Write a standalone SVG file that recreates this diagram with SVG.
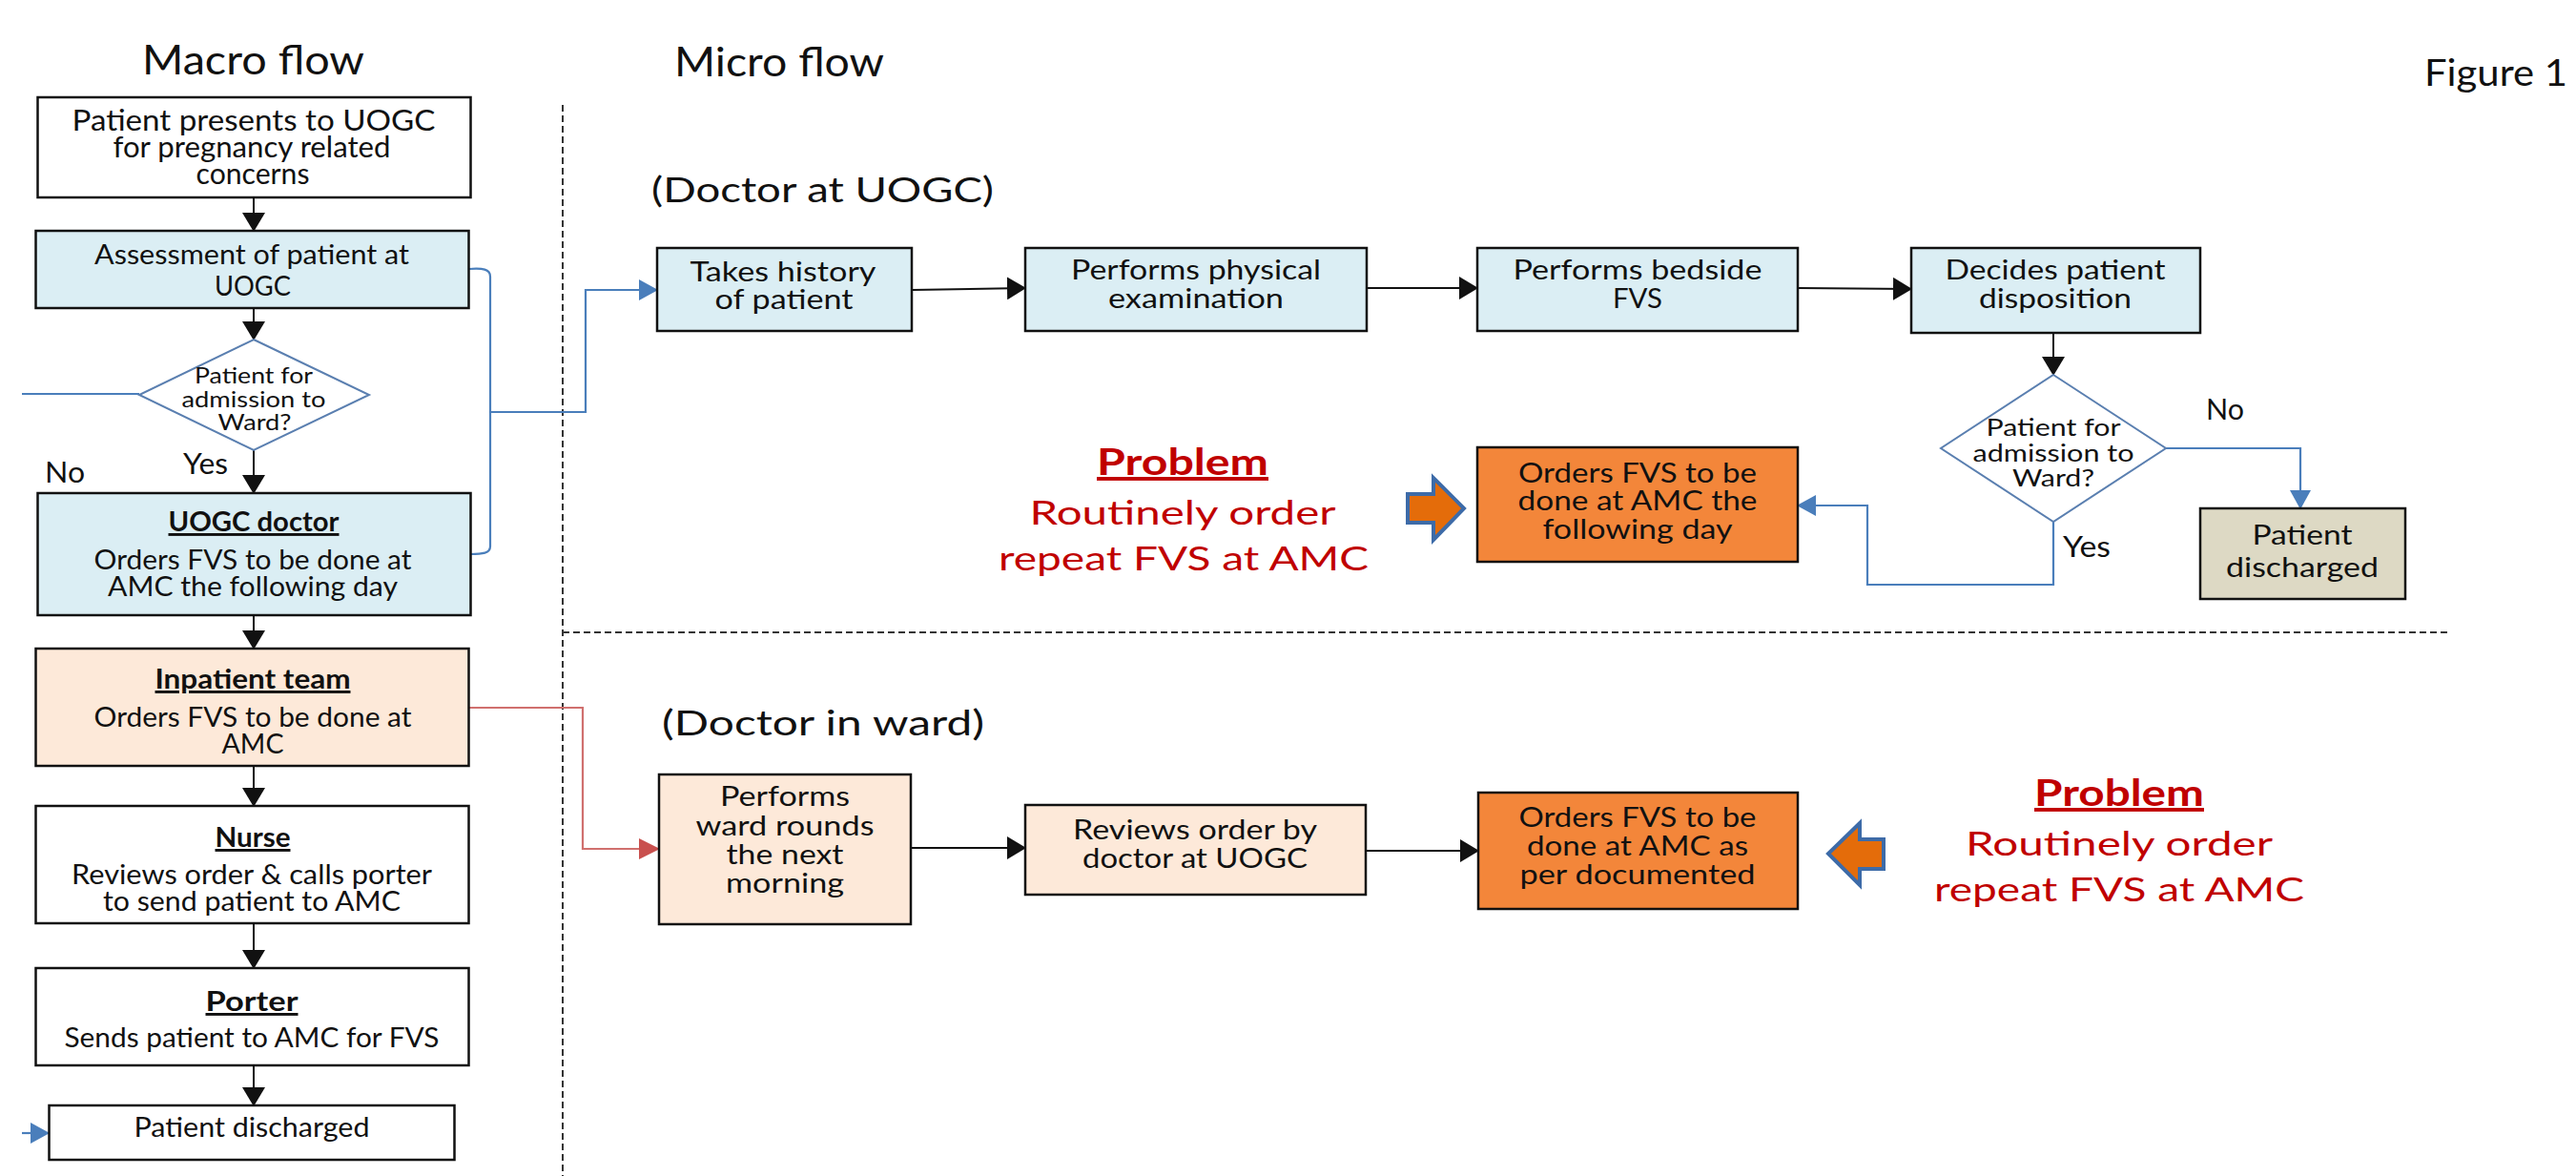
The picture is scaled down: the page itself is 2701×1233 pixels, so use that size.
<svg xmlns="http://www.w3.org/2000/svg" width="2701" height="1233" viewBox="0 0 2701 1233">
  <style>
    text { font-family: Lato, "Liberation Sans", sans-serif; fill: #111; }
    .ttl { font-size: 43px; }
    .sub { font-size: 37px; }
    .lc { font-size: 29px; text-anchor: middle; }
    .lcb { font-size: 29px; text-anchor: middle; font-weight: bold; text-decoration: underline; }
    .mc { font-size: 29px; text-anchor: middle; }
    .dm { font-size: 24px; text-anchor: middle; }
    .yn { font-size: 30px; }
    .pb { font-size: 39px; font-weight: bold; fill: #C00000; text-anchor: middle; text-decoration: underline; }
    .pr { font-size: 35px; fill: #C00000; text-anchor: middle; }
    .box { stroke: #111; stroke-width: 2.5; }
    .white { fill: #FFFFFF; }
    .blue { fill: #DBEEF4; }
    .peach { fill: #FDE9D9; }
    .orange { fill: #F3863A; }
    .tan { fill: #DDD9C4; }
    .dia { fill: #FFFFFF; stroke: #5A7FB0; stroke-width: 2; }
    .k { fill: none; stroke: #111; stroke-width: 2; }
    .b { fill: none; stroke: #4A7EBB; stroke-width: 2.2; }
    .r { fill: none; stroke: #D0706E; stroke-width: 2.2; }
    .dash { fill: none; stroke: #333; stroke-width: 2; stroke-dasharray: 7 4; }
    .blk { fill: #E46C0A; stroke: #3D6BA8; stroke-width: 4; stroke-linejoin: miter; }
  </style>
  <defs>
    <marker id="ak" markerUnits="userSpaceOnUse" viewBox="0 0 20 24" markerWidth="20" markerHeight="24" refX="19" refY="12" orient="auto">
      <path d="M0,0 L20,12 L0,24 z" fill="#111"/>
    </marker>
    <marker id="ab" markerUnits="userSpaceOnUse" viewBox="0 0 20 22" markerWidth="20" markerHeight="22" refX="19" refY="11" orient="auto">
      <path d="M0,0 L20,11 L0,22 z" fill="#4A7EBB"/>
    </marker>
    <marker id="ar" markerUnits="userSpaceOnUse" viewBox="0 0 22 22" markerWidth="22" markerHeight="22" refX="21" refY="11" orient="auto">
      <path d="M0,0 L22,11 L0,22 z" fill="#C9504E"/>
    </marker>
  </defs>

  <rect width="2701" height="1233" fill="#FFFFFF"/>

  <!-- section headings -->
  <g id="headings">
    <text class="ttl" x="149" y="78" textLength="233" lengthAdjust="spacingAndGlyphs">Macro flow</text>
    <text class="ttl" x="707" y="80" textLength="220" lengthAdjust="spacingAndGlyphs">Micro flow</text>
    <text class="ttl" x="2542" y="90" font-size="39" style="font-size:39px" textLength="150" lengthAdjust="spacingAndGlyphs">Figure 1</text>
    <text class="sub" x="683" y="212" textLength="359" lengthAdjust="spacingAndGlyphs">(Doctor at UOGC)</text>
    <text class="sub" x="694" y="771" textLength="338" lengthAdjust="spacingAndGlyphs">(Doctor in ward)</text>
  </g>

  <!-- swimlane separators -->
  <g id="separators">
    <line class="dash" x1="590" y1="110" x2="590" y2="1233"/>
    <line class="dash" x1="590" y1="663" x2="2566" y2="663"/>
  </g>

  <!-- connectors -->
  <g id="connectors">
    <!-- macro flow spine -->
    <path class="k" d="M266,207 L266,242" marker-end="url(#ak)"/>
    <path class="k" d="M266,323 L266,356" marker-end="url(#ak)"/>
    <path class="k" d="M266,472 L266,517" marker-end="url(#ak)"/>
    <path class="k" d="M266,645 L266,680" marker-end="url(#ak)"/>
    <path class="k" d="M266,803 L266,845" marker-end="url(#ak)"/>
    <path class="k" d="M266,968 L266,1015" marker-end="url(#ak)"/>
    <path class="k" d="M266,1117 L266,1159" marker-end="url(#ak)"/>
    <!-- "No" branch of the macro decision -->
    <path class="b" d="M146,413 L23,413"/>
    <path class="b" d="M23,1188 L51,1188" marker-end="url(#ab)"/>
    <!-- bracket linking UOGC steps to the doctor micro flow -->
    <path class="b" d="M492,282 C506,281 514,282 514,290 L514,573 C514,580 506,581 493,581"/>
    <path class="b" d="M514,432 L614,432 L614,304 L689,304" marker-end="url(#ab)"/>
    <!-- inpatient team to ward micro flow -->
    <path class="r" d="M492,742 L611,742 L611,890 L691,890" marker-end="url(#ar)"/>
    <!-- doctor at UOGC row -->
    <path class="k" d="M956,304 L1075,302" marker-end="url(#ak)"/>
    <path class="k" d="M1433,302 L1549,302" marker-end="url(#ak)"/>
    <path class="k" d="M1885,302 L2004,303" marker-end="url(#ak)"/>
    <path class="k" d="M2153,349 L2153,393" marker-end="url(#ak)"/>
    <path class="b" d="M2271,470 L2412,470 L2412,533" marker-end="url(#ab)"/>
    <path class="b" d="M2153,547 L2153,613 L1958,613 L1958,530 L1885,530" marker-end="url(#ab)"/>
    <!-- doctor in ward row -->
    <path class="k" d="M955,889 L1075,889" marker-end="url(#ak)"/>
    <path class="k" d="M1432,892 L1550,892" marker-end="url(#ak)"/>
  </g>

  <!-- connector labels -->
  <g id="labels">
    <text class="yn" x="192" y="497" textLength="47" lengthAdjust="spacingAndGlyphs">Yes</text>
    <text class="yn" x="47" y="506" textLength="42" lengthAdjust="spacingAndGlyphs">No</text>
    <text class="yn" x="2313" y="440" textLength="40" lengthAdjust="spacingAndGlyphs">No</text>
    <text class="yn" x="2163" y="584" textLength="50" lengthAdjust="spacingAndGlyphs">Yes</text>
  </g>

  <!-- macro flow nodes -->
  <g id="n-presents">
    <rect class="box white" x="39.5" y="102" width="454" height="105"/>
    <text class="lc" x="266" y="137" style="font-size:30px" textLength="381" lengthAdjust="spacingAndGlyphs">Patient presents to UOGC</text>
    <text class="lc" x="264" y="165" style="font-size:30px" textLength="291" lengthAdjust="spacingAndGlyphs">for pregnancy related</text>
    <text class="lc" x="265" y="193" style="font-size:30px" textLength="119" lengthAdjust="spacingAndGlyphs">concerns</text>
  </g>
  <g id="n-assessment">
    <rect class="box blue" x="37.5" y="242" width="454" height="81"/>
    <text class="lc" x="264" y="277" style="font-size:28px" textLength="330" lengthAdjust="spacingAndGlyphs">Assessment of patient at</text>
    <text class="lc" x="265" y="310" style="font-size:28px" textLength="80" lengthAdjust="spacingAndGlyphs">UOGC</text>
  </g>
  <g id="n-admit">
    <polygon class="dia" points="266,356 387,414 266,472 146,414"/>
    <text class="dm" x="266" y="402" style="font-size:23px" textLength="124" lengthAdjust="spacingAndGlyphs">Patient for</text>
    <text class="dm" x="266" y="427" style="font-size:23px" textLength="151" lengthAdjust="spacingAndGlyphs">admission to</text>
    <text class="dm" x="267" y="451" style="font-size:23px" textLength="77" lengthAdjust="spacingAndGlyphs">Ward?</text>
  </g>
  <g id="n-uogc-doctor">
    <rect class="box blue" x="39.5" y="517" width="454" height="128"/>
    <text class="lcb" x="266" y="557" textLength="179" lengthAdjust="spacingAndGlyphs">UOGC doctor</text>
    <text class="lc" x="265" y="597" textLength="333" lengthAdjust="spacingAndGlyphs">Orders FVS to be done at</text>
    <text class="lc" x="265" y="625" textLength="304" lengthAdjust="spacingAndGlyphs">AMC the following day</text>
  </g>
  <g id="n-inpatient">
    <rect class="box peach" x="37.5" y="680" width="454" height="123"/>
    <text class="lcb" x="265" y="722" textLength="205" lengthAdjust="spacingAndGlyphs">Inpatient team</text>
    <text class="lc" x="265" y="762" textLength="333" lengthAdjust="spacingAndGlyphs">Orders FVS to be done at</text>
    <text class="lc" x="265" y="790" textLength="65" lengthAdjust="spacingAndGlyphs">AMC</text>
  </g>
  <g id="n-nurse">
    <rect class="box white" x="37.5" y="845" width="454" height="123"/>
    <text class="lcb" x="265" y="888" textLength="79" lengthAdjust="spacingAndGlyphs">Nurse</text>
    <text class="lc" x="264" y="927" textLength="378" lengthAdjust="spacingAndGlyphs">Reviews order &amp; calls porter</text>
    <text class="lc" x="264" y="955" textLength="312" lengthAdjust="spacingAndGlyphs">to send patient to AMC</text>
  </g>
  <g id="n-porter">
    <rect class="box white" x="37.5" y="1015" width="454" height="102"/>
    <text class="lcb" x="264" y="1060" textLength="97" lengthAdjust="spacingAndGlyphs">Porter</text>
    <text class="lc" x="264" y="1098" textLength="393" lengthAdjust="spacingAndGlyphs">Sends patient to AMC for FVS</text>
  </g>
  <g id="n-discharged-macro">
    <rect class="box white" x="51.5" y="1159" width="425" height="57"/>
    <text class="lc" x="264" y="1192" textLength="247" lengthAdjust="spacingAndGlyphs">Patient discharged</text>
  </g>

  <!-- micro flow: doctor at UOGC -->
  <g id="n-history">
    <rect class="box blue" x="689" y="260" width="267" height="87"/>
    <text class="mc" x="821" y="295" textLength="195" lengthAdjust="spacingAndGlyphs">Takes history</text>
    <text class="mc" x="822" y="324" textLength="145" lengthAdjust="spacingAndGlyphs">of patient</text>
  </g>
  <g id="n-exam">
    <rect class="box blue" x="1075" y="260" width="358" height="87"/>
    <text class="mc" x="1254" y="293" textLength="262" lengthAdjust="spacingAndGlyphs">Performs physical</text>
    <text class="mc" x="1254" y="323" textLength="184" lengthAdjust="spacingAndGlyphs">examination</text>
  </g>
  <g id="n-bedside">
    <rect class="box blue" x="1549" y="260" width="336" height="87"/>
    <text class="mc" x="1717" y="293" textLength="261" lengthAdjust="spacingAndGlyphs">Performs bedside</text>
    <text class="mc" x="1717" y="323" textLength="52" lengthAdjust="spacingAndGlyphs">FVS</text>
  </g>
  <g id="n-disposition">
    <rect class="box blue" x="2004" y="260" width="303" height="89"/>
    <text class="mc" x="2155" y="293" textLength="231" lengthAdjust="spacingAndGlyphs">Decides patient</text>
    <text class="mc" x="2155" y="323" textLength="160" lengthAdjust="spacingAndGlyphs">disposition</text>
  </g>
  <g id="n-admit-micro">
    <polygon class="dia" points="2153,393 2271,470 2153,547 2035,470"/>
    <text class="dm" x="2153" y="457" style="font-size:25px" textLength="141" lengthAdjust="spacingAndGlyphs">Patient for</text>
    <text class="dm" x="2153" y="484" style="font-size:25px" textLength="169" lengthAdjust="spacingAndGlyphs">admission to</text>
    <text class="dm" x="2153" y="510" style="font-size:25px" textLength="86" lengthAdjust="spacingAndGlyphs">Ward?</text>
  </g>
  <g id="n-discharged-micro">
    <rect class="box tan" x="2307" y="533" width="215" height="95"/>
    <text class="mc" x="2414" y="571" textLength="105" lengthAdjust="spacingAndGlyphs">Patient</text>
    <text class="mc" x="2414" y="605" textLength="160" lengthAdjust="spacingAndGlyphs">discharged</text>
  </g>
  <g id="n-order-next-day">
    <rect class="box orange" x="1549" y="469" width="336" height="120"/>
    <text class="mc" x="1717" y="506" textLength="250" lengthAdjust="spacingAndGlyphs">Orders FVS to be</text>
    <text class="mc" x="1717" y="535" textLength="251" lengthAdjust="spacingAndGlyphs">done at AMC the</text>
    <text class="mc" x="1717" y="565" textLength="199" lengthAdjust="spacingAndGlyphs">following day</text>
  </g>
  <g id="problem-1">
    <text class="pb" x="1240" y="498" textLength="180" lengthAdjust="spacingAndGlyphs">Problem</text>
    <text class="pr" x="1240" y="550" textLength="321" lengthAdjust="spacingAndGlyphs">Routinely order</text>
    <text class="pr" x="1241" y="598" textLength="388" lengthAdjust="spacingAndGlyphs">repeat FVS at AMC</text>
    <polygon class="blk" points="1476,518 1503,518 1503,501 1535,533 1503,566 1503,548 1476,548"/>
  </g>

  <!-- micro flow: doctor in ward -->
  <g id="n-ward-rounds">
    <rect class="box peach" x="691" y="812" width="264" height="157"/>
    <text class="mc" x="823" y="845" textLength="136" lengthAdjust="spacingAndGlyphs">Performs</text>
    <text class="mc" x="823" y="876" textLength="187" lengthAdjust="spacingAndGlyphs">ward rounds</text>
    <text class="mc" x="823" y="906" textLength="123" lengthAdjust="spacingAndGlyphs">the next</text>
    <text class="mc" x="823" y="936" textLength="124" lengthAdjust="spacingAndGlyphs">morning</text>
  </g>
  <g id="n-review-order">
    <rect class="box peach" x="1075" y="844" width="357" height="94"/>
    <text class="mc" x="1253" y="880" textLength="256" lengthAdjust="spacingAndGlyphs">Reviews order by</text>
    <text class="mc" x="1253" y="910" textLength="236" lengthAdjust="spacingAndGlyphs">doctor at UOGC</text>
  </g>
  <g id="n-order-documented">
    <rect class="box orange" x="1550" y="831" width="335" height="122"/>
    <text class="mc" x="1717" y="867" textLength="249" lengthAdjust="spacingAndGlyphs">Orders FVS to be</text>
    <text class="mc" x="1717" y="897" textLength="232" lengthAdjust="spacingAndGlyphs">done at AMC as</text>
    <text class="mc" x="1717" y="927" textLength="247" lengthAdjust="spacingAndGlyphs">per documented</text>
  </g>
  <g id="problem-2">
    <polygon class="blk" points="1975,880 1950,880 1950,863 1917,895 1950,928 1950,911 1975,911"/>
    <text class="pb" x="2222" y="845" textLength="178" lengthAdjust="spacingAndGlyphs">Problem</text>
    <text class="pr" x="2222" y="897" textLength="322" lengthAdjust="spacingAndGlyphs">Routinely order</text>
    <text class="pr" x="2222" y="945" textLength="388" lengthAdjust="spacingAndGlyphs">repeat FVS at AMC</text>
  </g>
</svg>
